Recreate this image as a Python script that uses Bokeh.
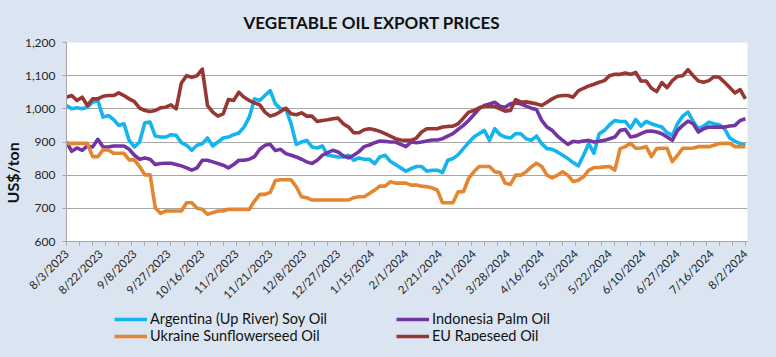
import math
from bokeh.plotting import figure
from bokeh.layouts import column
from bokeh.models import (Range1d, FixedTicker, Legend, LegendItem, Title,
                          NumeralTickFormatter, GlobalInlineStyleSheet)
from bokeh.embed import file_html
from bokeh.resources import INLINE

# ---------------- data ----------------
tick_labels = ["8/3/2023", "8/22/2023", "9/8/2023", "9/27/2023", "10/16/2023",
               "11/2/2023", "11/21/2023", "12/8/2023", "12/27/2023", "1/15/2024",
               "2/1/2024", "2/21/2024", "3/11/2024", "3/28/2024", "4/16/2024",
               "5/3/2024", "5/22/2024", "6/10/2024", "6/27/2024", "7/16/2024",
               "8/2/2024"]
label_step = 13          # trading days between labelled dates
minor_step = 5           # one tick per week
n_days = 261
day = list(range(0, n_days, 2))   # every second trading day

argentina = [1010, 1000, 1003, 1000, 1005, 1020, 1025, 975, 980, 968,
             950, 955, 905, 885, 900, 958, 960, 918, 915, 915,
             922, 920, 898, 890, 875, 890, 895, 912, 888, 900,
             912, 915, 922, 927, 945, 975, 1030, 1025, 1040, 1055,
             1015, 1000, 1000, 955, 893, 900, 905, 885, 882, 888,
             860, 858, 855, 855, 860, 845, 852, 848, 848, 835,
             855, 860, 842, 832, 822, 812, 820, 826, 826, 812,
             815, 815, 808, 845, 850, 862, 880, 898, 915, 925,
             935, 905, 940, 922, 915, 912, 925, 925, 910, 905,
             918, 895, 880, 878, 870, 860, 850, 838, 828, 860,
             895, 866, 925, 935, 952, 965, 962, 962, 942, 968,
             948, 962, 955, 950, 945, 928, 920, 955, 978, 990,
             962, 940, 948, 960, 955, 952, 940, 912, 902, 895,
             890]

indonesia = [900, 872, 882, 875, 888, 885, 908, 885, 885, 888,
             888, 888, 878, 860, 848, 852, 848, 832, 835, 836,
             836, 832, 828, 822, 815, 822, 845, 845, 840, 835,
             830, 822, 832, 845, 845, 848, 856, 878, 890, 893,
             874, 878, 865, 860, 855, 848, 840, 835, 845, 860,
             868, 875, 870, 858, 852, 860, 871, 886, 891, 898,
             903, 902, 900, 900, 893, 886, 900, 898, 900, 903,
             906, 906, 910, 918, 925, 938, 950, 965, 982, 1000,
             1010, 1015, 1020, 1008, 1005, 1015, 1018, 1015, 1008, 1002,
             998, 965, 945, 935, 918, 905, 893, 902, 900, 903,
             905, 900, 902, 905, 910, 915, 935, 938, 915, 918,
             925, 932, 933, 930, 925, 915, 905, 935, 950, 963,
             955, 930, 940, 945, 945, 945, 945, 948, 950, 965,
             970]

ukraine = [896, 896, 896, 896, 896, 856, 856, 876, 876, 866,
           866, 866, 846, 846, 826, 801, 801, 702, 685, 692,
           692, 692, 692, 717, 717, 700, 697, 682, 687, 692,
           692, 697, 697, 697, 697, 697, 722, 742, 742, 748,
           784, 786, 786, 786, 765, 735, 732, 725, 725, 725,
           725, 725, 725, 725, 725, 732, 735, 735, 745, 755,
           767, 767, 780, 776, 776, 776, 770, 770, 767, 765,
           762, 755, 717, 717, 717, 750, 750, 790, 810, 826,
           826, 826, 810, 808, 776, 772, 800, 800, 810, 825,
           836, 826, 800, 792, 800, 810, 800, 781, 785, 795,
           815, 823, 823, 825, 826, 815, 880, 886, 896, 881,
           882, 886, 856, 880, 881, 881, 841, 860, 881, 881,
           882, 886, 886, 886, 890, 895, 896, 896, 886, 886,
           886]

eu = [1035, 1040, 1025, 1035, 1010, 1030, 1030, 1038, 1040, 1040,
      1048, 1040, 1030, 1022, 1002, 995, 992, 995, 1003, 1005,
      1012, 1000, 1078, 1100, 1095, 1100, 1120, 1010, 990, 978,
      985, 1028, 1025, 1050, 1035, 1025, 1018, 1012, 990, 978,
      983, 992, 1002, 985, 982, 988, 978, 978, 962, 965,
      967, 970, 972, 955, 945, 928, 928, 937, 940, 937,
      932, 925, 918, 910, 906, 905, 905, 912, 930, 940,
      940, 940, 945, 947, 948, 955, 972, 990, 995, 1003,
      1008, 1008, 1007, 1000, 993, 995, 1028, 1020, 1021, 1018,
      1015, 1010, 1020, 1030, 1038, 1040, 1040, 1035, 1054, 1062,
      1069, 1074, 1080, 1085, 1100, 1104, 1104, 1108, 1104, 1110,
      1084, 1084, 1062, 1052, 1079, 1064, 1085, 1098, 1100, 1118,
      1100, 1084, 1080, 1085, 1097, 1095, 1080, 1064, 1048, 1058,
      1030]

series_names = ["Argentina (Up River) Soy Oil", "Indonesia Palm Oil",
                "Ukraine Sunflowerseed Oil", "EU Rapeseed Oil"]
series_values = [argentina, indonesia, ukraine, eu]
series_colors = ["#14b4ee", "#7434a4", "#e4852f", "#973734"]

y_ticks = [600, 700, 800, 900, 1000, 1100, 1200]

# ---------------- main figure ----------------
BG = "#dbe5f1"
FONT = "Lato"
LW = 3.6

p = figure(width=760, height=308, output_backend="svg", toolbar_location=None,
           x_range=Range1d(0, 260.8), y_range=Range1d(600, 1200),
           min_border_left=62, min_border_right=13,
           min_border_top=35, min_border_bottom=64)
p.stylesheets = [GlobalInlineStyleSheet(css="html, body { background: %s; }" % BG)]
p.border_fill_color = BG
p.background_fill_color = "white"
p.outline_line_color = None

p.title.text = "VEGETABLE OIL EXPORT PRICES"
p.title.text_font = FONT
p.title.text_font_style = "bold"
p.title.text_font_size = "17px"
p.title.text_color = "#111111"
p.title.align = "left"
p.title.offset = 177
p.title.standoff = 19

renderers = []
for vals, col in zip(series_values, series_colors):
    r = p.line(day, vals, line_color=col, line_width=LW, line_join="round")
    renderers.append(r)

# y axis
p.yaxis.ticker = FixedTicker(ticks=y_ticks)
p.yaxis.formatter = NumeralTickFormatter(format="0,0")
p.yaxis.major_label_text_font = FONT
p.yaxis.major_label_text_font_size = "12px"
p.yaxis.major_label_text_color = "#262626"
p.yaxis.axis_line_color = "#a6a6a6"
p.yaxis.major_tick_line_color = "#a6a6a6"
p.yaxis.major_tick_out = 4
p.yaxis.major_tick_in = 0
p.yaxis.minor_tick_line_color = None
p.yaxis.major_label_standoff = 7

ytitle = Title(text="US$/ton", align="left", offset=38, standoff=0,
               text_font=FONT, text_font_style="bold", text_font_size="16px",
               text_color="#111111")
p.add_layout(ytitle, "left")

# x axis
label_idx = [label_step * k for k in range(len(tick_labels))]
p.xaxis.ticker = FixedTicker(ticks=label_idx,
                             minor_ticks=list(range(0, n_days, minor_step)))
p.xaxis.major_label_overrides = {i: t for i, t in zip(label_idx, tick_labels)}
p.xaxis.major_label_orientation = math.pi / 4
p.xaxis.major_label_text_font = FONT
p.xaxis.major_label_text_font_size = "11.5px"
p.xaxis.major_label_text_color = "#262626"
p.xaxis.axis_line_color = "#a6a6a6"
p.xaxis.major_tick_line_color = None
p.xaxis.major_tick_out = 0
p.xaxis.major_tick_in = 0
p.xaxis.minor_tick_line_color = "#a6a6a6"
p.xaxis.minor_tick_out = 4
p.xaxis.minor_tick_in = 0
p.xaxis.major_label_standoff = 6

p.xgrid.grid_line_color = None
p.ygrid.grid_line_color = "#a6a6a6"
p.ygrid.grid_line_width = 1

# ---------------- legend strip ----------------
leg = figure(width=760, height=33, output_backend="svg", toolbar_location=None,
             x_range=Range1d(0, 1), y_range=Range1d(0, 1),
             x_axis_location=None, y_axis_location=None,
             min_border=0, outline_line_color=None)
leg.grid.visible = False
leg.background_fill_color = BG
leg.border_fill_color = BG

# the series are drawn again here (outside the visible range) only to feed the legend
dummies = [leg.line(day, vals, line_color=c, line_width=LW)
           for vals, c in zip(series_values, series_colors)]

def make_legend(idx, x):
    return Legend(items=[LegendItem(label=series_names[i], renderers=[dummies[i]])
                         for i in idx],
                  location=(x, -3), orientation="vertical",
                  glyph_width=33, glyph_height=14, label_height=14,
                  label_standoff=3, spacing=0, padding=0, margin=0,
                  label_text_font=FONT, label_text_font_size="14.5px",
                  label_text_color="#111111",
                  background_fill_alpha=0, border_line_color=None)

leg.add_layout(make_legend([0, 2], 48))
leg.add_layout(make_legend([1, 3], 330))

layout = column(p, leg, spacing=0)
open("out.html", "w").write(file_html(layout, INLINE))
